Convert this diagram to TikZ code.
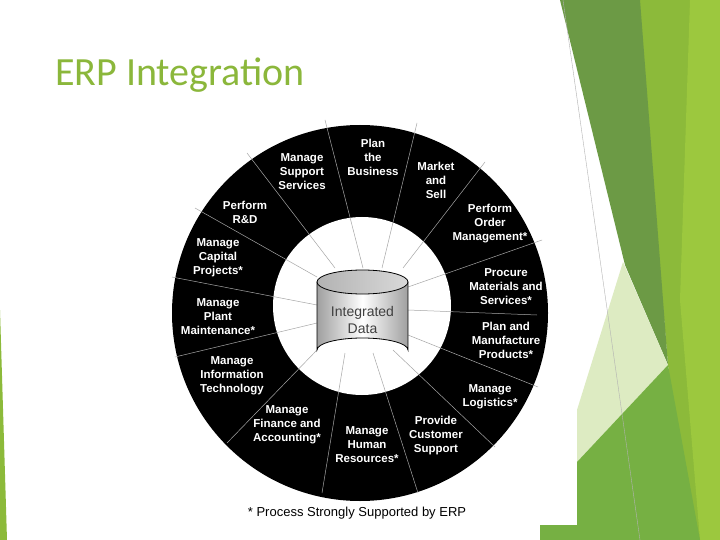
\documentclass[tikz,border=0pt]{standalone}
\usepackage{fontspec}
\setmainfont{Liberation Sans}
\newfontfamily\titlefont{Carlito}
\begin{document}
\begin{tikzpicture}[x=1pt,y=-1pt,
  lbl/.style={text=white,font=\bfseries\fontsize{11.5}{14}\selectfont,align=center,inner sep=0pt},
  divider/.style={draw=gray!70,line width=0.5pt}]
\useasboundingbox (0,0) rectangle (720,540);
\fill[white] (0,0) rectangle (720,540);
% green decoration
\definecolor{gA}{HTML}{6C9A45}\definecolor{gB}{HTML}{8CBA3A}\definecolor{gC}{HTML}{9CC83E}
\definecolor{gP}{HTML}{DDEBC2}\definecolor{gM}{HTML}{76B043}
\fill[gB] (637,0) -- (720,0) -- (720,540) -- (690,540) -- (668,365) -- cycle;
\fill[gC] (690,0) -- (720,0) -- (720,540) -- (700,540) -- (680,300) -- cycle;
\fill[gA] (560,0) -- (640,0) -- (668,365) -- (625,265) -- cycle;
\fill[gP] (623,262) -- (668,365) -- (577,462) -- (577,410) -- cycle;
\fill[gM] (577,462) -- (668,365) -- (700,540) -- (540,540) -- (540,525) -- (577,525) -- cycle;
\fill[gB] (0,310) -- (7,540) -- (0,540) -- cycle;
\draw[gray!60,line width=0.4pt] (563,0) -- (640,540);
% title
\node[anchor=west,text={rgb,255:red,139;green,183;blue,59},font=\titlefont\fontsize{40}{46}\selectfont,inner sep=0pt] (title) at (55,75) {ERP Integration};
% wheel
\fill[black] (360,313) circle (188);
\fill[white] (362,306) circle (89);
\foreach \ox/\oy/\ix/\iy in {247/153/335/268, 325/120/363/268, 417/123/382/268, 485/162/403/268,
  542/240/408/287, 537/315/408/310, 538/387/408/335, 495/447/393/350, 418/493/373/353,
  322/493/345/353, 227/443/317/350, 175/357/317/323, 172/277/317/305, 195/208/317/277}
  \draw[divider] (\ix,\iy) -- (\ox,\oy);
% cylinder
\shade[left color=gray!75,right color=gray!75,middle color=white,draw=black,line width=0.8pt]
  (317,282) -- (317,350) arc[start angle=180,end angle=360,x radius=45.5,y radius=12] -- (408,282) -- cycle;
\shade[left color=gray!60,right color=gray!30,draw=black,line width=0.8pt] (362.5,282) ellipse[x radius=45.5,y radius=12];
\node[text=black!75,font=\fontsize{14}{17}\selectfont,align=center] (data) at (362.5,320) {Integrated\\Data};
% labels
\node[lbl] (l1) at (373,157) {Plan\\the\\Business};
\node[lbl] (l2) at (436,180) {Market\\and\\Sell};
\node[lbl] (l3) at (490,224) {Perform\\Order\\Management*};
\node[lbl] (l4) at (506,287) {Procure\\Materials and\\Services*};
\node[lbl] (l5) at (506,340) {Plan and\\Manufacture\\Products*};
\node[lbl] (l6) at (490,397) {Manage\\Logistics*};
\node[lbl] (l7) at (436,436) {Provide\\Customer\\Support};
\node[lbl] (l8) at (367,445) {Manage\\Human\\Resources*};
\node[lbl] (l9) at (287,425) {Manage\\Finance and\\Accounting*};
\node[lbl] (l10) at (232,376) {Manage\\Information\\Technology};
\node[lbl] (l11) at (218,317) {Manage\\Plant\\Maintenance*};
\node[lbl] (l12) at (218,258) {Manage\\Capital\\Projects*};
\node[lbl] (l13) at (245,212) {Perform\\R\&D};
\node[lbl] (l14) at (302,172) {Manage\\Support\\Services};
\node[font=\fontsize{13}{15}\selectfont,inner sep=0pt] (foot) at (357,513) {* Process Strongly Supported by ERP};
\end{tikzpicture}
\end{document}
